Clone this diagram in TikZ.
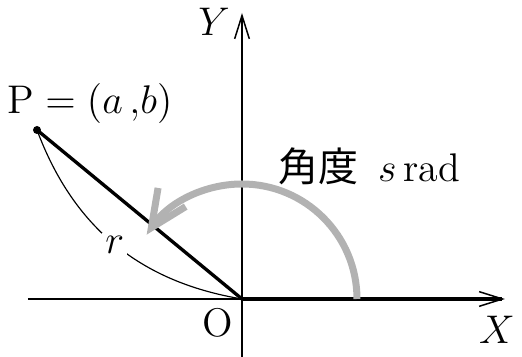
\documentclass[tikz,border=0pt]{standalone}
\usepackage{fontspec}
\newfontfamily\cjk{Noto Sans CJK JP}
\usetikzlibrary{arrows.meta}
\begin{document}
\begin{tikzpicture}[x=0.3pt,y=0.3pt,font=\fontsize{12}{14}\selectfont,
  axis/.style={line width=0.45pt,-{Straight Barb[length=7pt,width=4.4pt]}},
  thickline/.style={line width=1pt},
  rcurve/.style={line width=0.35pt},
  anglearrow/.style={line width=2.1pt,black!30,-{Straight Barb[length=11pt,width=10pt]}},
  lbl/.style={inner sep=1pt}]
\useasboundingbox (0,0) rectangle (522,357);
\coordinate (O) at (242,58);
\coordinate (P) at (37,227);
\coordinate (XL) at (28,58);
\coordinate (XR) at (505,58);
\coordinate (XT) at (502,58);
\coordinate (YB) at (242,0);
\coordinate (YT) at (242,344);
\coordinate (A0) at (357,58);
\draw[axis] (XL) -- (XR);
\draw[axis] (YB) -- (YT);
\draw[thickline] (O) -- (XT);
\draw[thickline] (O) -- (P);
\fill (P) circle (4);
\draw[rcurve] (P) to[bend right=30] node[fill=white,lbl] (lr) {$r$} (O);
\draw[anglearrow] (A0) arc[start angle=0,end angle=146,radius=115];
\node[lbl] (lP) at (90,253) {$\mathrm{P}=(a\,{,}b)$};
\node[lbl] (lY) at (214,335) {$Y$};
\node[lbl] (lX) at (497,27) {$X$};
\node[lbl] (lO) at (218,34) {O};
\node[lbl] (lang) at (369,191) {{\cjk 角度}\hspace{6pt}$s\,\mathrm{rad}$};
\end{tikzpicture}
\end{document}
